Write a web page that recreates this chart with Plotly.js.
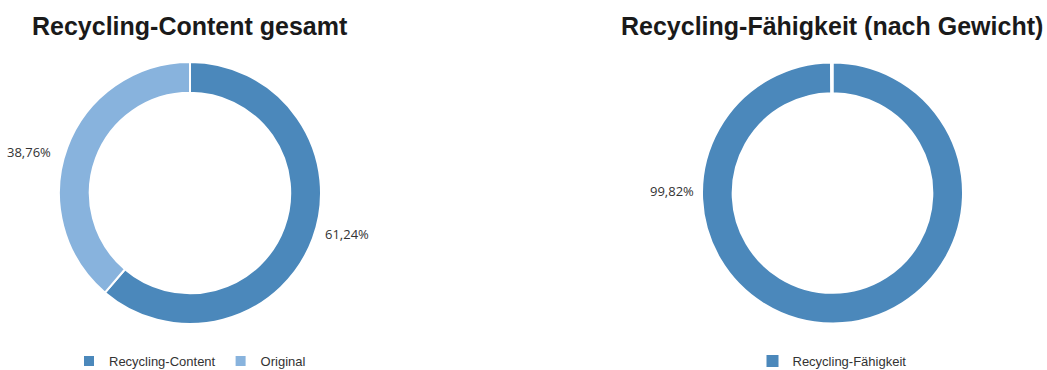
<!DOCTYPE html>
<html>
<head>
<meta charset="utf-8">
<script src="https://cdn.plot.ly/plotly-3.0.1.min.js"></script>
<style>html,body{margin:0;padding:0;background:#fff;}#chart{width:1047px;height:370px;}</style>
</head>
<body>
<div id="chart"></div>
<script>
// Data
const contentLabels = ['Recycling-Content', 'Original'];
const contentValues = [61.24, 38.76];
const abilityLabels = ['Recycling-Fähigkeit', 'Rest'];
const abilityValues = [99.82, 0.18];
const chartTitles = ['Recycling-Content gesamt', 'Recycling-Fähigkeit (nach Gewicht)'];

const DARK = '#4b88bb', LIGHT = '#88b3dd';
const W = 1047, H = 370;
const px = x => x / W, py = y => 1 - y / H;
const fmt = v => v.toFixed(2).replace('.', ',') + '%';

const common = {
  type: 'pie', hole: 0.765, sort: false, direction: 'clockwise', rotation: 0,
  textinfo: 'none', hoverinfo: 'label+percent'
};

const traces = [
  Object.assign({}, common, {
    labels: contentLabels, values: contentValues,
    marker: {colors: [DARK, LIGHT], line: {color: '#fff', width: 2}},
    domain: {x: [px(59), px(321)], y: [py(324), py(62)]},
    legend: 'legend'
  }),
  Object.assign({}, common, {
    labels: abilityLabels, values: abilityValues,
    marker: {colors: [DARK, '#ffffff'], line: {color: '#fff', width: 2}},
    domain: {x: [px(702), px(963)], y: [py(324), py(62)]},
    showlegend: false
  }),
  // legend-only entry for the right chart
  {
    type: 'pie', labels: [abilityLabels[0]], values: [abilityValues[0]],
    marker: {colors: [DARK], line: {color: '#aaa', width: 0}},
    textinfo: 'none', hoverinfo: 'skip',
    domain: {x: [px(832), px(832.05)], y: [py(193.05), py(193)]},
    legend: 'legend2'
  }
];

const titleFont = {family: 'Liberation Sans, Arial, sans-serif', size: 25, color: '#1a1a1a', weight: 'bold'};
const labelFont = {family: 'Open Sans, sans-serif', size: 13, color: '#333'};

const ann = (text, x, y, font) => ({text: text, x: px(x), y: py(y), xref: 'paper', yref: 'paper', showarrow: false, font: font, xanchor: 'center', yanchor: 'middle'});
const annotations = [
  ann('<b>' + chartTitles[0] + '</b>', 190, 26, titleFont),
  ann('<b>' + chartTitles[1] + '</b>', 832, 26, titleFont),
  ann(fmt(contentValues[1]), 29, 152, labelFont),
  ann(fmt(contentValues[0]), 347, 234, labelFont),
  ann(fmt(abilityValues[0]), 672, 191, labelFont)
];

const legendFont = {family: 'Liberation Sans, Arial, sans-serif', size: 13, color: '#333'};
const layout = {
  width: W, height: H,
  margin: {l: 0, r: 0, t: 0, b: 0, autoexpand: false},
  paper_bgcolor: '#fff', plot_bgcolor: '#fff',
  annotations: annotations,
  legend: {orientation: 'h', x: px(190), xanchor: 'center', y: py(361), yanchor: 'middle', font: legendFont, itemclick: false, itemdoubleclick: false},
  legend2: {orientation: 'h', x: px(832), xanchor: 'center', y: py(361), yanchor: 'middle', font: legendFont, itemclick: false, itemdoubleclick: false}
};

Plotly.newPlot('chart', traces, layout, {displayModeBar: false, staticPlot: true});
</script>
</body>
</html>
